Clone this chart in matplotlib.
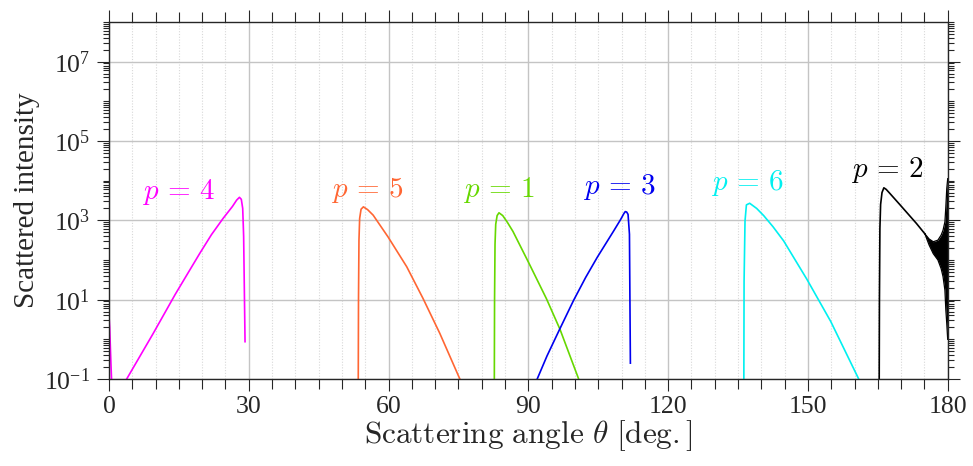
"""
Scattered intensity of the first six ray orders p vs. scattering angle
"""

import numpy as np
import matplotlib
matplotlib.use("Agg")
import matplotlib.pyplot as plt
from matplotlib.ticker import MultipleLocator, LogLocator, NullFormatter, FixedLocator

plt.rcParams['font.family'] = 'serif'
plt.rcParams['font.serif'] = ['Liberation Serif', 'DejaVu Serif']
plt.rcParams['mathtext.fontset'] = 'cm'
plt.rcParams['axes.unicode_minus'] = False

# angles in degrees, intensities as log10 values
p1_theta = [82.7, 82.75, 82.85, 83.0, 83.3, 83.7, 84.5, 85.5, 86.7, 90.0, 93.9, 96.8, 100.8]
p1_log = [-1.0, 1.0, 2.4, 2.9, 3.12, 3.19, 3.12, 2.95, 2.72, 1.95, 1.02, 0.25, -1.0]

p2_theta = [165.3, 165.35, 165.45, 165.6, 165.9, 166.3, 166.8, 167.5, 169.7, 173.3, 175.1]
p2_log = [-1.0, 1.0, 2.8, 3.4, 3.7, 3.82, 3.78, 3.69, 3.40, 2.92, 2.66]
# oscillating band of p = 2 close to backscatter
p2_band_theta = [175.1, 176.0, 176.9, 177.9, 178.6, 179.0, 179.4, 179.6, 179.8, 180.0]
p2_band_upper = [2.66, 2.53, 2.46, 2.50, 2.63, 2.75, 2.96, 3.34, 3.80, 4.05]
p2_band_lower = [2.66, 2.38, 2.16, 2.00, 1.78, 1.58, 1.24, 0.74, 0.40, 0.00]

p3_theta = [91.9, 94.0, 96.5, 99.7, 102.3, 104.8, 108.3, 109.8, 110.5, 110.8, 111.1, 111.4,
            111.7, 111.9]
p3_log = [-1.0, -0.42, 0.2, 0.98, 1.56, 2.07, 2.73, 3.02, 3.17, 3.22, 3.21, 3.15, 2.65, -0.6]

p4_theta = [3.8, 9.5, 14.2, 17.0, 19.5, 22.0, 24.5, 26.5, 27.4, 28.0, 28.4, 28.7, 28.9, 29.2]
p4_log = [-1.0, 0.15, 1.13, 1.68, 2.17, 2.64, 3.05, 3.35, 3.51, 3.58, 3.53, 3.3, 2.6, -0.06]
# small forward-scatter piece of p = 4
p4f_theta = [0.0, 0.15, 0.3, 0.45, 0.55]
p4f_log = [0.6, 0.3, -0.2, -0.7, -1.0]

p5_theta = [53.5, 53.55, 53.65, 53.8, 54.1, 54.6, 55.5, 56.7, 59.9, 63.9, 67.4, 71.0, 75.3]
p5_log = [-1.0, 1.0, 2.5, 3.05, 3.28, 3.34, 3.27, 3.13, 2.58, 1.83, 1.03, 0.15, -1.0]

p6_theta = [136.25, 136.3, 136.5, 136.8, 137.5, 139.0, 140.5, 142.5, 144.8, 149.8, 154.9, 160.9]
p6_log = [-1.0, 1.46, 2.98, 3.39, 3.43, 3.30, 3.12, 2.84, 2.48, 1.51, 0.45, -1.0]

labels = [r'$p\,=\,4$', r'$p\,=\,5$', r'$p\,=\,1$', r'$p\,=\,3$', r'$p\,=\,6$', r'$p\,=\,2$']
label_theta = [14.8, 55.4, 83.7, 109.6, 136.9, 167.1]
label_log = [3.71, 3.76, 3.76, 3.84, 3.94, 4.26]

colors = {
    'p1': '#66d800',
    'p2': 'black',
    'p3': '#0000f0',
    'p4': '#ff00ff',
    'p5': '#ff6633',
    'p6': '#00f0f0',
}
label_colors = [colors['p4'], colors['p5'], colors['p1'], colors['p3'], colors['p6'], colors['p2']]


def pw(a):
    return 10.0 ** np.asarray(a)


fig = plt.figure(figsize=(9.73, 4.66), dpi=100)
ax = fig.add_axes([0.112, 0.1867, 0.862, 0.7661])

lw = 1.2
ax.plot(p4f_theta, pw(p4f_log), color=colors['p4'], lw=lw)
ax.plot(p4_theta, pw(p4_log), color=colors['p4'], lw=lw)
ax.plot(p5_theta, pw(p5_log), color=colors['p5'], lw=lw)
ax.plot(p1_theta, pw(p1_log), color=colors['p1'], lw=lw)
ax.plot(p3_theta, pw(p3_log), color=colors['p3'], lw=lw)
ax.plot(p6_theta, pw(p6_log), color=colors['p6'], lw=lw)
ax.plot(p2_theta, pw(p2_log), color=colors['p2'], lw=lw)
ax.fill_between(p2_band_theta, pw(p2_band_lower), pw(p2_band_upper),
                color='black', lw=0)
ax.plot(p2_band_theta, pw(p2_band_upper), color='black', lw=0.9)
ax.plot(p2_band_theta, pw(p2_band_lower), color='black', lw=0.9)

for txt, t, l, c in zip(labels, label_theta, label_log, label_colors):
    ax.text(t, 10 ** l, txt, color=c, fontsize=21, ha='center', va='center')

ax.set_xlim(0, 180)
ax.set_yscale('log')
ax.set_ylim(1e-1, 1e8)

ax.xaxis.set_major_locator(MultipleLocator(30))
ax.xaxis.set_minor_locator(MultipleLocator(5))
ax.yaxis.set_major_locator(FixedLocator([1e-1, 1e1, 1e3, 1e5, 1e7]))
ax.yaxis.set_minor_locator(LogLocator(base=10, subs=np.arange(1, 10), numticks=30))
ax.yaxis.set_minor_formatter(NullFormatter())
ax.set_yticklabels([r'$\mathdefault{10^{-1}}$', r'$\mathdefault{10^{1}}$',
                    r'$\mathdefault{10^{3}}$', r'$\mathdefault{10^{5}}$',
                    r'$\mathdefault{10^{7}}$'])

ax.grid(which='major', color='#c4c4c4', lw=1.0, ls='-')
ax.grid(which='minor', axis='x', color='#d8d8d8', lw=0.8, ls=(0, (1, 1.5)))
ax.set_axisbelow(True)

ax.tick_params(which='both', direction='out', top=True, right=True,
               colors='#262626', labelcolor='#262626', width=0.8)
ax.tick_params(which='major', length=8.5, labelsize=18.5)
ax.tick_params(axis='x', which='minor', length=7)
ax.tick_params(axis='y', which='minor', length=4.5)
ax.tick_params(axis='x', which='major', pad=4)
ax.tick_params(axis='y', which='major', pad=5)
for s in ax.spines.values():
    s.set_color('#262626')
    s.set_linewidth(1.0)

ax.set_xlabel(r'$\mathrm{Scattering\ angle}\ \theta\ \mathrm{[deg.]}$', fontsize=22.5,
              color='#262626', labelpad=0)
ax.set_ylabel('Scattered intensity', fontsize=21, color='#262626', labelpad=3)

fig.savefig('out.png', dpi=100)
